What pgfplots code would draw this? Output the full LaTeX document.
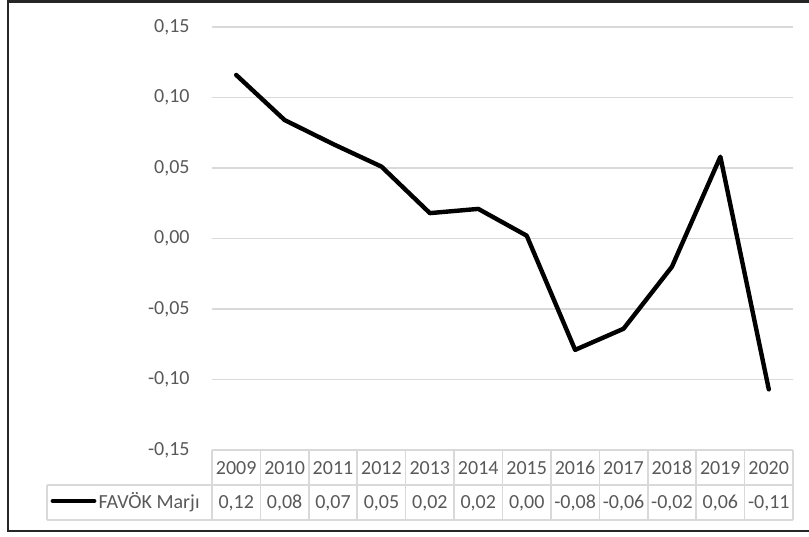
\documentclass[border=0pt]{standalone}
\usepackage{fontspec}
\setmainfont{Carlito}
\usepackage{pgfplots}
\pgfplotsset{compat=1.18}
\definecolor{txt}{HTML}{595959}
\definecolor{grd}{HTML}{D9D9D9}

\begin{document}
\begin{tikzpicture}[font=\fontsize{10}{12}\selectfont]
% page = 809x536 px at 0.5pt/px, axis box origin at px (212,450)
\path[use as bounding box] (-106pt,225pt) rectangle (298.5pt,-43pt);
\draw[line width=1.3pt, black!85] (305pt,224.3pt) -- (-102pt,224.3pt) -- (-102pt,-40.5pt) -- (305pt,-40.5pt);

\begin{axis}[
  at={(0,0)}, anchor=south west,
  scale only axis, width=290.5pt, height=211.5pt,
  xmin=2008.5, xmax=2020.5,
  ymin=-0.15, ymax=0.15,
  xtick={2009,...,2020},
  ytick={-0.15,-0.10,...,0.16},
  axis line style={draw=none},
  major tick length=0pt,
  ymajorgrids, grid style={grd, line width=0.9pt},
  /pgf/number format/assume math mode=true,
  yticklabel style={txt, anchor=east, inner sep=0pt, xshift=-11pt,
    /pgf/number format/.cd, fixed, fixed zerofill, precision=2, use comma},
  xticklabel style={txt, anchor=base, inner sep=0pt, yshift=-12.3pt,
    /pgf/number format/1000 sep={}},
  clip=false,
]
\addplot[black, line width=2.2pt, line join=round, line cap=round] coordinates {
  (2009,0.116) (2010,0.084) (2011,0.067) (2012,0.051) (2013,0.018) (2014,0.021)
  (2015,0.002) (2016,-0.079) (2017,-0.064) (2018,-0.020) (2019,0.058) (2020,-0.107)
};
\end{axis}

% data table
\begin{scope}[grd, line width=0.8pt]
  \draw (0pt,0pt) -- (290.5pt,0pt);
  \draw (-82.5pt,-17.5pt) -- (290.5pt,-17.5pt);
  \draw (-82.5pt,-35pt) -- (290.5pt,-35pt);
  \draw (-82.5pt,-17.5pt) -- (-82.5pt,-35pt);
  \foreach \k in {0,...,12} \draw ({\k*290.5/12*1pt},0pt) -- ({\k*290.5/12*1pt},-35pt);
\end{scope}
\draw[black, line width=2.4pt, line cap=round] (-79.5pt,-25.5pt) -- (-59pt,-25.5pt);
\node[txt, anchor=base east, inner sep=0pt] at (-6pt,-29pt) {FAVÖK Marjı};
\foreach \v [count=\i] in {{0,12},{0,08},{0,07},{0,05},{0,02},{0,02},{0,00},{-0,08},{-0,06},{-0,02},{0,06},{-0,11}}
  \node[txt, anchor=base, inner sep=0pt] at ({(\i-0.5)*290.5/12*1pt},-29pt) {\v};
\end{tikzpicture}
\end{document}
